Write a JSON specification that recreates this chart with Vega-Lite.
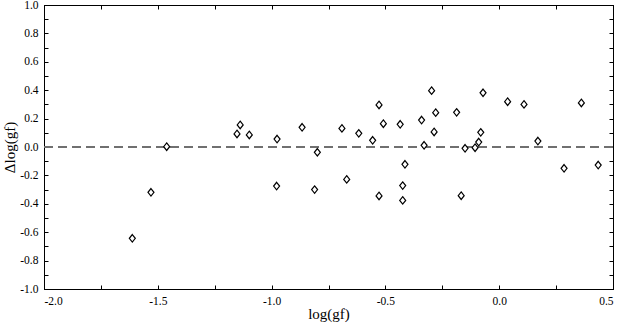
{
  "$schema": "https://vega.github.io/schema/vega-lite/v6.json",
  "width": 569,
  "height": 284,
  "autosize": {"type": "none"},
  "padding": {"left": 44, "top": 5, "right": 8, "bottom": 34},
  "background": "white",
  "config": {
    "font": "Liberation Serif",
    "view": {"stroke": "black", "strokeWidth": 1},
    "axis": {
      "labelFont": "Liberation Serif",
      "titleFont": "Liberation Serif",
      "labelFontSize": 11.5,
      "titleFontSize": 15,
      "titleFontWeight": "normal",
      "labelColor": "black",
      "titleColor": "black",
      "domainColor": "black",
      "tickColor": "black",
      "grid": false,
      "tickSize": -4,
      "labelPadding": 10
    }
  },
  "data": {
    "values": [
      {"lgf": -1.612, "dlgf": -0.643},
      {"lgf": -1.530, "dlgf": -0.319},
      {"lgf": -1.461, "dlgf": 0.002},
      {"lgf": -1.152, "dlgf": 0.092},
      {"lgf": -1.138, "dlgf": 0.155},
      {"lgf": -1.098, "dlgf": 0.085},
      {"lgf": -0.978, "dlgf": -0.275},
      {"lgf": -0.976, "dlgf": 0.056},
      {"lgf": -0.866, "dlgf": 0.139},
      {"lgf": -0.811, "dlgf": -0.300},
      {"lgf": -0.799, "dlgf": -0.037},
      {"lgf": -0.691, "dlgf": 0.131},
      {"lgf": -0.670, "dlgf": -0.228},
      {"lgf": -0.617, "dlgf": 0.096},
      {"lgf": -0.556, "dlgf": 0.047},
      {"lgf": -0.528, "dlgf": 0.296},
      {"lgf": -0.528, "dlgf": -0.345},
      {"lgf": -0.509, "dlgf": 0.164},
      {"lgf": -0.435, "dlgf": 0.160},
      {"lgf": -0.424, "dlgf": -0.272},
      {"lgf": -0.424, "dlgf": -0.376},
      {"lgf": -0.414, "dlgf": -0.122},
      {"lgf": -0.341, "dlgf": 0.190},
      {"lgf": -0.330, "dlgf": 0.012},
      {"lgf": -0.297, "dlgf": 0.397},
      {"lgf": -0.286, "dlgf": 0.106},
      {"lgf": -0.279, "dlgf": 0.242},
      {"lgf": -0.187, "dlgf": 0.244},
      {"lgf": -0.167, "dlgf": -0.343},
      {"lgf": -0.150, "dlgf": -0.009},
      {"lgf": -0.106, "dlgf": -0.005},
      {"lgf": -0.090, "dlgf": 0.035},
      {"lgf": -0.081, "dlgf": 0.103},
      {"lgf": -0.071, "dlgf": 0.382},
      {"lgf": 0.037, "dlgf": 0.319},
      {"lgf": 0.109, "dlgf": 0.300},
      {"lgf": 0.170, "dlgf": 0.042},
      {"lgf": 0.285, "dlgf": -0.150},
      {"lgf": 0.361, "dlgf": 0.310},
      {"lgf": 0.435, "dlgf": -0.127}
    ]
  },
  "resolve": {"axis": {"x": "independent", "y": "independent"}},
  "layer": [
    {
      "mark": {"type": "rule", "stroke": "#707070", "strokeWidth": 1.5, "strokeDash": [9, 5]},
      "encoding": {
        "y": {"datum": 0, "type": "quantitative", "scale": {"domain": [-1, 1]},
          "axis": {"orient": "left", "title": "Δlog(gf)", "titlePadding": 2, "labelFont": "Liberation Serif", "titleFont": "Liberation Serif",
            "values": [-1,-0.9,-0.8,-0.7,-0.6,-0.5,-0.4,-0.3,-0.2,-0.1,0,0.1,0.2,0.3,0.4,0.5,0.6,0.7,0.8,0.9,1],
            "labelExpr": "abs(round(datum.value*10)) % 2 == 0 ? replace(format(datum.value, '.1f'), '\u2212', '-') : ''"}}
      }
    },
    {
      "mark": {"type": "point", "shape": "M0,-1L0.8,0L0,1L-0.8,0Z", "size": 56, "filled": true, "fill": "white", "stroke": "black", "strokeWidth": 1.2, "opacity": 1},
      "encoding": {
        "x": {"field": "lgf", "type": "quantitative", "scale": {"domain": [-2, 0.5], "nice": false, "zero": false},
          "axis": {"orient": "bottom", "title": "log(gf)", "titlePadding": 0, "labelFont": "Liberation Serif", "titleFont": "Liberation Serif",
            "values": [-2,-1.75,-1.5,-1.25,-1,-0.75,-0.5,-0.25,0,0.25,0.5],
            "labelExpr": "abs(datum.value*2 - round(datum.value*2)) < 0.001 ? replace(format(datum.value, '.1f'), '\u2212', '-') : ''"}},
        "y": {"field": "dlgf", "type": "quantitative", "scale": {"domain": [-1, 1], "nice": false, "zero": false},
          "axis": {"orient": "right", "title": null, "labels": false,
            "values": [-1,-0.9,-0.8,-0.7,-0.6,-0.5,-0.4,-0.3,-0.2,-0.1,0,0.1,0.2,0.3,0.4,0.5,0.6,0.7,0.8,0.9,1]}}
      }
    },
    {
      "mark": {"type": "point", "opacity": 0},
      "encoding": {
        "x": {"field": "lgf", "type": "quantitative",
          "axis": {"orient": "top", "title": null, "labels": false,
            "values": [-2,-1.75,-1.5,-1.25,-1,-0.75,-0.5,-0.25,0,0.25,0.5]}}
      }
    }
  ]
}
